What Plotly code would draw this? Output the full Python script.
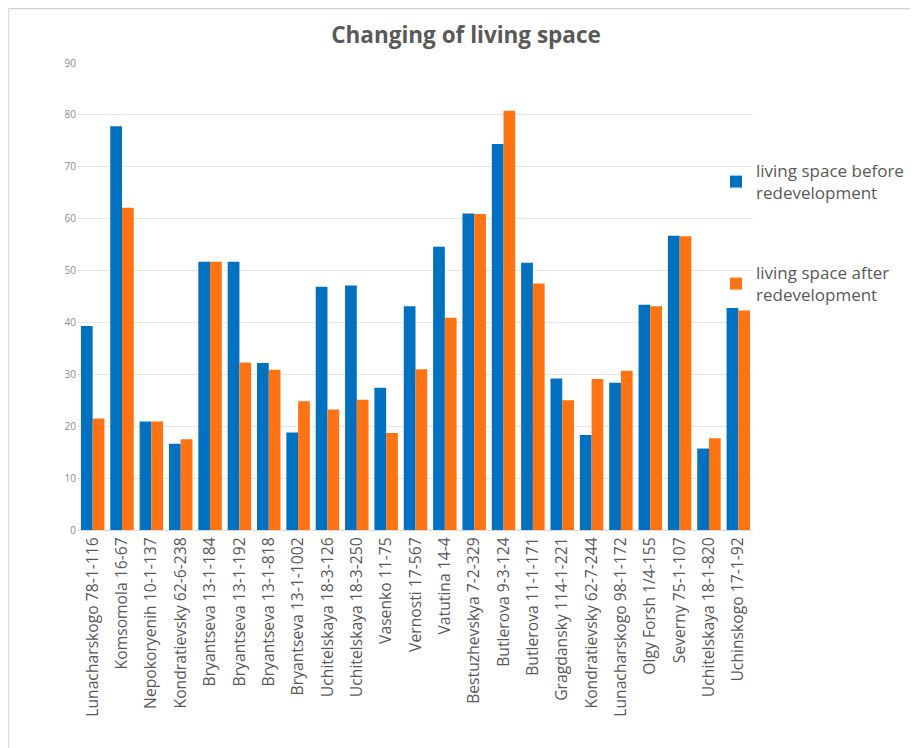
import plotly.graph_objects as go

categories = [
    "Lunacharskogo 78-1-116", "Komsomola 16-67", "Nepokoryenih 10-1-137",
    "Kondratievsky 62-6-238", "Bryantseva 13-1-184", "Bryantseva 13-1-192",
    "Bryantseva 13-1-818", "Bryantseva 13-1-1002", "Uchitelskaya 18-3-126",
    "Uchitelskaya 18-3-250", "Vasenko 11-75", "Vernosti 17-567", "Vatutina 14-4",
    "Bestuzhevskya 7-2-329", "Butlerova 9-3-124", "Butlerova 11-1-171",
    "Gragdansky 114-1-221", "Kondratievsky 62-7-244", "Lunacharskogo 98-1-172",
    "Olgy Forsh 1/4-155", "Severny 75-1-107", "Uchitelskaya 18-1-820",
    "Uchinskogo 17-1-92",
]
before = [39.3, 77.8, 20.9, 16.6, 51.7, 51.7, 32.2, 18.8, 46.9, 47.1, 27.4,
          43.1, 54.6, 61.0, 74.4, 51.5, 29.2, 18.3, 28.4, 43.4, 56.7, 15.7, 42.8]
after = [21.5, 62.1, 20.9, 17.5, 51.7, 32.3, 30.9, 24.8, 23.2, 25.1, 18.7,
         31.0, 40.9, 60.9, 80.8, 47.5, 25.0, 29.1, 30.7, 43.1, 56.6, 17.7, 42.3]
y_ticks = [0, 10, 20, 30, 40, 50, 60, 70, 80, 90]

name_before = "living space before<br>redevelopment"
name_after = "living space after<br>redevelopment"
title_text = "Changing of living space"

FONT = "Open Sans"
TEXT = "#595959"

# figure is shown with an 8px page offset
W, H = 910, 740
PL, PR, PT, PB = 70, 745, 55, 522  # plot area in figure pixels
PW, PHt = PR - PL, PB - PT

fig = go.Figure()
fig.add_trace(go.Bar(x=categories, y=before, name=name_before,
                     marker=dict(color="#0070C0", line=dict(width=0)),
                     legend="legend"))
fig.add_trace(go.Bar(x=categories, y=after, name=name_after,
                     marker=dict(color="#FF7312", line=dict(width=0)),
                     legend="legend2"))

legend_common = dict(font=dict(family=FONT, size=17, color=TEXT),
                     bgcolor="rgba(0,0,0,0)", xanchor="left", yanchor="middle",
                     itemwidth=30, tracegroupgap=0, visible=True)

def px_x(x):
    return (x - PL) / PW

def px_y(y):
    return 1 - (y - PT) / PHt

fig.update_layout(
    width=W, height=H,
    margin=dict(l=PL, r=W - PR, t=PT, b=H - PB, autoexpand=False),
    paper_bgcolor="white", plot_bgcolor="white",
    showlegend=True,
    barmode="group", bargap=0.2, bargroupgap=0,
    title=dict(text="<b>" + title_text + "</b>", x=458 / W, xanchor="center",
               y=1 - 27 / H, yanchor="middle",
               font=dict(family=FONT, size=22.5, color=TEXT)),
    xaxis=dict(tickangle=-90, tickfont=dict(family=FONT, size=15.7, color=TEXT),
               showline=True, linecolor="#d9d9d9", linewidth=1,
               ticks="", showgrid=False),
    yaxis=dict(range=[0, 90], tickvals=y_ticks, showgrid=True,
               gridcolor="#e6e6e6", gridwidth=1, zeroline=False,
               tickfont=dict(family=FONT, size=10, color="#8c8c8c"),
               ticks="", ticklabelstandoff=1),
    legend=dict(x=px_x(708), y=px_y(174), **legend_common),
    legend2=dict(x=px_x(708), y=px_y(276), **legend_common),
    shapes=[
        dict(type="line", xref="paper", yref="paper", x0=px_x(0.5), x1=px_x(W),
             y0=px_y(0.5), y1=px_y(0.5), line=dict(color="#d0d0d0", width=1.5)),
        dict(type="line", xref="paper", yref="paper", x0=px_x(0.5), x1=px_x(0.5),
             y0=px_y(0.5), y1=px_y(H), line=dict(color="#e0e0e0", width=1.5)),
    ],
)

fig.write_html("out.html")
